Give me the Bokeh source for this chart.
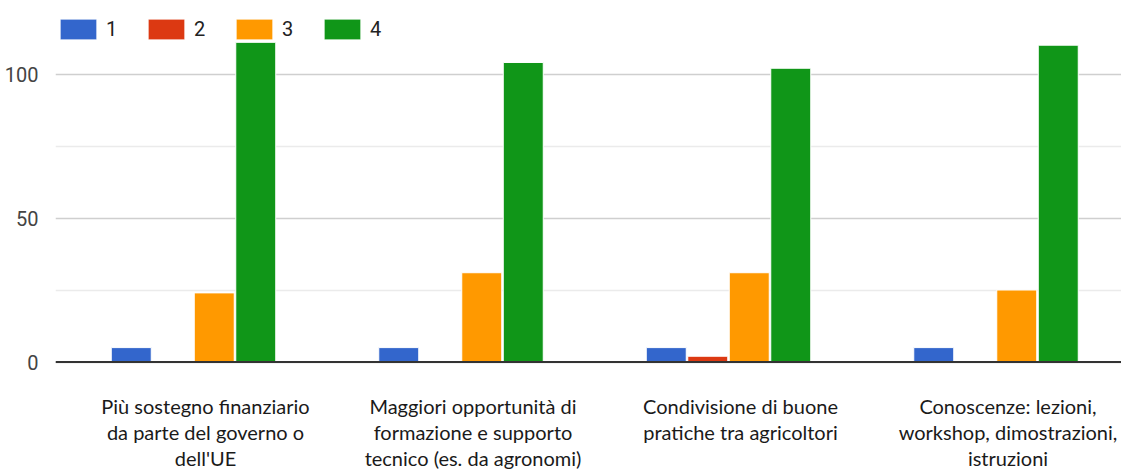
import numpy as np
from bokeh.plotting import figure
from bokeh.models import (Range1d, FixedTicker, LinearAxis, Span, Legend,
                          LegendItem, ColumnDataSource)
from bokeh.embed import file_html
from bokeh.resources import INLINE

# --- data -----------------------------------------------------------------
categories = [
    "Più sostegno finanziario\nda parte del governo o\ndell'UE",
    "Maggiori opportunità di\nformazione e supporto\ntecnico (es. da agronomi)",
    "Condivisione di buone\npratiche tra agricoltori",
    "Conoscenze: lezioni,\nworkshop, dimostrazioni,\nistruzioni",
]
series_names = ["1", "2", "3", "4"]
values_1 = [5, 5, 5, 5]
values_2 = [0, 0, 2, 0]
values_3 = [24, 31, 31, 25]
values_4 = [111, 104, 102, 110]
y_ticks = [0, 50, 100]
y_minor_ticks = [25, 75]

colors = ["#3366cc", "#dc3912", "#ff9900", "#109618"]
all_values = [values_1, values_2, values_3, values_4]

# --- geometry (pixels) ------------------------------------------------------
W, H = 1121, 473
frame_left, frame_top, frame_bottom = 55, 16, 365
zero_px = 361.5          # pixel row of value 0
px_per_unit = 2.88       # vertical scale
band_px = 267.5          # width of one category band
first_center_px = 193.0  # pixel column of first category centre

x_start = (frame_left - first_center_px) / band_px
x_end = (W - first_center_px) / band_px
y_end = (zero_px - frame_top) / px_per_unit
y_start = -(frame_bottom - zero_px) / px_per_unit

TICK_FONT = "Roboto"
CAT_FONT = "Lato"

p = figure(width=W, height=H, output_backend="svg", toolbar_location=None,
           x_range=Range1d(x_start, x_end), y_range=Range1d(y_start, y_end),
           x_axis_location=None, min_border_left=frame_left,
           min_border_right=0, min_border_top=frame_top,
           min_border_bottom=40)
p.outline_line_color = None
p.background_fill_color = "white"
p.border_fill_color = "white"

# y axis and grid
p.yaxis.ticker = FixedTicker(ticks=y_ticks, minor_ticks=y_minor_ticks)
p.yaxis.axis_line_color = None
p.yaxis.major_tick_line_color = None
p.yaxis.minor_tick_line_color = None
p.yaxis.major_tick_out = 0
p.yaxis.major_tick_in = 0
p.yaxis.minor_tick_out = 0
p.yaxis.minor_tick_in = 0
p.yaxis.major_label_standoff = 17
p.yaxis.major_label_text_font = TICK_FONT
p.yaxis.major_label_text_font_size = "20px"
p.yaxis.major_label_text_color = "#444444"
p.ygrid.ticker = FixedTicker(ticks=y_ticks, minor_ticks=y_minor_ticks)
p.ygrid.grid_line_color = "#cfcfcf"
p.ygrid.grid_line_width = 1.5
p.ygrid.minor_grid_line_color = "#ebebeb"
p.ygrid.minor_grid_line_width = 1.5
p.xgrid.grid_line_color = None

# grouped bars
x_centers = np.arange(len(categories))
n = len(all_values)
pitch = 41.5 / band_px
bar_w = 40.0 / band_px
renderers = []
for k, (vals, col) in enumerate(zip(all_values, colors)):
    src = ColumnDataSource(dict(x=x_centers + (k - (n - 1) / 2) * pitch,
                                top=vals))
    r = p.vbar(x="x", top="top", bottom=0, width=bar_w, source=src,
               fill_color=col, line_color="white", line_width=1)
    renderers.append(r)

# baseline
p.add_layout(Span(location=0, dimension="width", line_color="#333333",
                  line_width=2))

# category labels on their own axis
shift = 12 / band_px
p.extra_x_ranges = {"labels": Range1d(x_start - shift, x_end - shift)}
xaxis = LinearAxis(x_range_name="labels",
                   ticker=FixedTicker(ticks=list(x_centers)),
                   major_label_overrides={int(i): c for i, c in enumerate(categories)})
xaxis.axis_line_color = None
xaxis.major_tick_line_color = None
xaxis.minor_tick_line_color = None
xaxis.major_tick_out = 0
xaxis.major_tick_in = 0
xaxis.minor_tick_out = 0
xaxis.minor_tick_in = 0
xaxis.major_label_standoff = 28
xaxis.major_label_text_font = CAT_FONT
xaxis.major_label_text_font_size = "20px"
xaxis.major_label_text_line_height = 1.1
xaxis.major_label_text_color = "#1a1a1a"
p.add_layout(xaxis, "below")

# legend (area swatches are drawn with a 10% inset inside the glyph box)
legend = Legend(items=[LegendItem(label=s, renderers=[r])
                       for s, r in zip(series_names, renderers)],
                orientation="horizontal", location="top_left",
                glyph_width=46, glyph_height=26, label_standoff=5,
                spacing=17, padding=0, margin=0,
                label_text_font=TICK_FONT, label_text_font_size="20px",
                label_text_color="#222222", background_fill_alpha=0,
                border_line_color=None)
p.add_layout(legend)

open("out.html", "w").write(file_html(p, INLINE))
